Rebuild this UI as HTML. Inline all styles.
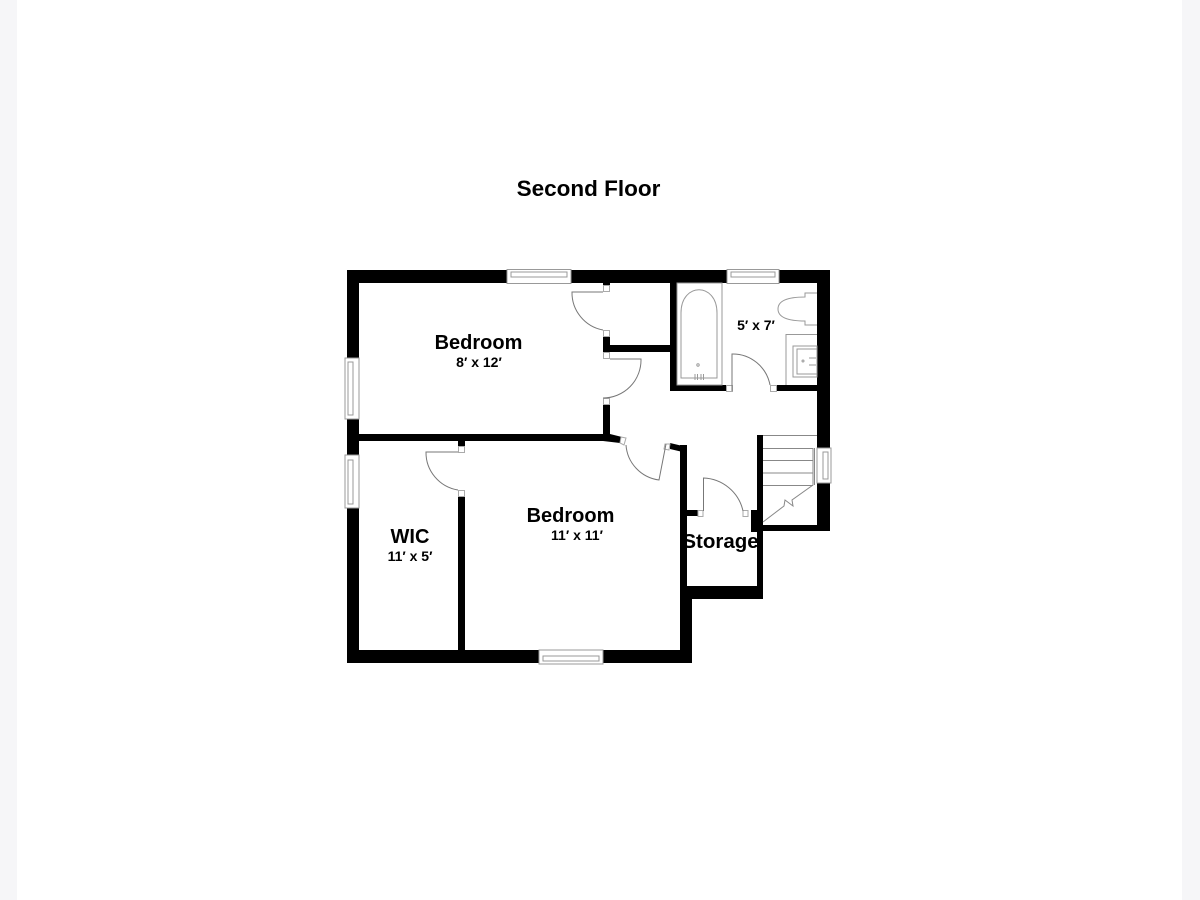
<!DOCTYPE html>
<html><head><meta charset="utf-8"><style>
html,body{margin:0;padding:0;background:#f6f6f8;width:1200px;height:900px;overflow:hidden}
svg{display:block}
text{font-family:"Liberation Sans",sans-serif;font-weight:bold;fill:#000;text-anchor:middle}
</style></head><body>
<svg width="1200" height="900" viewBox="0 0 1200 900">
<rect x="17" y="0" width="1165" height="900" fill="#fff"/>
<!-- walls -->
<g fill="#000">
<rect x="347" y="270" width="483" height="13"/>
<rect x="347" y="270" width="12" height="393"/>
<rect x="347" y="650" width="345" height="13"/>
<rect x="817" y="270" width="13" height="178"/>
<rect x="817" y="483" width="13" height="48"/>
<rect x="757" y="525" width="73" height="6"/>
<rect x="757" y="435" width="6" height="164"/>
<rect x="751" y="510" width="12" height="22"/>
<rect x="680" y="445" width="7" height="155"/>
<rect x="680" y="598" width="12" height="60"/>
<rect x="680" y="586" width="83" height="13"/>
<rect x="687" y="510" width="11" height="6"/>
<rect x="670" y="283" width="7" height="108"/>
<rect x="670" y="385" width="56" height="6"/>
<rect x="776" y="385" width="41" height="6"/>
<rect x="603" y="345" width="67" height="7"/>
<rect x="603" y="336" width="7" height="16"/>
<rect x="603" y="283" width="7" height="2"/>
<rect x="603" y="404" width="7" height="33"/>
<rect x="359" y="434" width="251" height="7"/>
<polygon points="603,434 610,434 622,437 620,443 603,441"/>
<polygon points="670,443 687,447 687,453 670,449"/>
<rect x="458" y="441" width="7" height="5"/>
<rect x="458" y="496" width="7" height="154"/>
</g>
<!-- windows -->
<g fill="#fff" stroke="#999" stroke-width="1">
<rect x="507" y="269.500" width="64" height="14"/>
<rect x="511" y="272" width="56" height="5"/>
<rect x="727" y="269.500" width="52" height="14"/>
<rect x="731" y="272" width="44" height="5"/>
<rect x="539" y="650" width="64" height="14"/>
<rect x="543" y="656" width="56" height="5"/>
<rect x="345" y="358" width="14" height="61"/>
<rect x="348" y="362" width="5" height="53"/>
<rect x="345" y="455" width="14" height="53"/>
<rect x="348" y="460" width="5" height="44"/>
<rect x="817" y="448" width="14" height="35"/>
<rect x="823" y="452" width="5" height="27"/>
</g>
<!-- door jambs -->
<g fill="#fff" stroke="#aaa" stroke-width="1">
<rect x="603.500" y="285.500" width="6" height="6"/>
<rect x="603.500" y="330.500" width="6" height="6"/>
<rect x="603.500" y="352.500" width="6" height="6"/>
<rect x="603.500" y="398.500" width="6" height="6"/>
<rect x="726.500" y="385.500" width="6" height="6"/>
<rect x="770.500" y="385.500" width="6" height="6"/>
<rect x="458.500" y="446.500" width="6" height="6"/>
<rect x="458.500" y="490.500" width="6" height="6"/>
<rect x="698" y="510.500" width="5" height="6"/>
<rect x="743" y="510.500" width="5" height="6"/>
<polygon points="621,437 626,438 624,445 620,443"/>
<polygon points="665,444 670,444 669,450 664,449"/>
</g>
<!-- door leaves and arcs -->
<g fill="none" stroke="#777" stroke-width="1">
<path d="M603 292H572A38 38 0 0 0 603 330"/>
<path d="M610 359H641A38 38 0 0 1 603 398"/>
<path d="M732 391V354A38 38 0 0 1 770 385"/>
<path d="M458 452H426A38 38 0 0 0 458 490"/>
<path d="M703.500 511V478A42 42 0 0 1 743 511"/>
<path d="M626 445A38 38 0 0 0 659 480L666 444"/>
</g>
<!-- bath, toilet, sink -->
<g fill="none" stroke="#999" stroke-width="1">
<rect x="677" y="283" width="45" height="102"/>
<path d="M681 378V313C681 282 717 282 717 313V378Z"/>
<circle cx="698" cy="365" r="1.200"/>
<path d="M695 374V380M697.500 374V380M701 374V380M703.500 374V380"/>
<path d="M817 293H805V297C790 297 778 300 778 309C778 318 790 321 805 321V325H817"/>
<path d="M786 385V334.500H817"/>
<rect x="793" y="346" width="24" height="31"/>
<rect x="797" y="349" width="20" height="25"/>
<circle cx="803" cy="361" r="1"/>
<path d="M809 358H816M809 365H816"/>
</g>
<!-- stairs -->
<g fill="none" stroke="#888" stroke-width="1">
<path d="M763 435.500H817"/>
<path d="M763 448.500H813M763 460.500H813M763 473H813M763 485.500H813"/>
<path d="M813 448V485L792 500L793 506L789 503L785 500L784 506L763 522"/>
<path d="M814.500 448V485"/>
</g>
<!-- labels -->
<text x="588.500" y="196" font-size="22.500">Second Floor</text>
<text x="478.500" y="349" font-size="20">Bedroom</text>
<text x="479" y="367" font-size="14">8′ x 12′</text>
<text x="570.500" y="522" font-size="20">Bedroom</text>
<text x="577" y="540" font-size="14">11′ x 11′</text>
<text x="410" y="543" font-size="20">WIC</text>
<text x="410" y="561" font-size="14">11′ x 5′</text>
<text x="756" y="330" font-size="14">5′ x 7′</text>
<text x="720.500" y="548" font-size="20.500">Storage</text>
</svg>
</body></html>
